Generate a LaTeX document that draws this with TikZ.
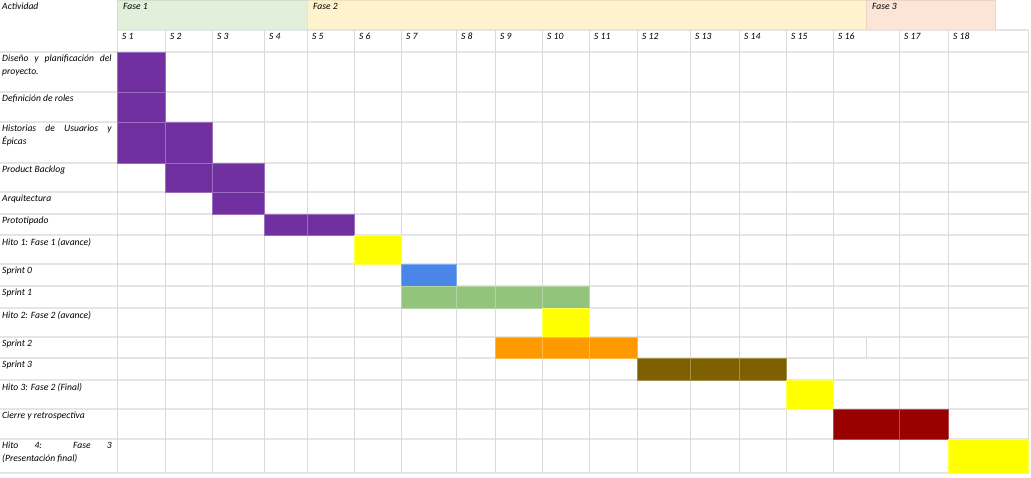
\documentclass[tikz,border=0pt]{standalone}
\usepackage{fontspec}
\setmainfont{Carlito}
\definecolor{purp}{HTML}{7030A0}
\definecolor{yel}{HTML}{FFFF00}
\definecolor{blu}{HTML}{4A86E8}
\definecolor{grn}{HTML}{93C47D}
\definecolor{org}{HTML}{FF9900}
\definecolor{brn}{HTML}{7F6000}
\definecolor{dred}{HTML}{990000}
\definecolor{phone}{HTML}{E2EFDA}
\definecolor{phtwo}{HTML}{FFF2CC}
\definecolor{phthree}{HTML}{FCE4D6}
\definecolor{gridc}{HTML}{DADADA}
\newcommand{\lblfont}{\fontsize{9.6}{13}\selectfont\itshape}
\begin{document}
\begin{tikzpicture}[x=1pt,y=-1pt,
  lbl/.style={anchor=north west, inner sep=0pt, font=\lblfont, text width=109.5pt, align=justify},
  hdr/.style={anchor=north west, inner sep=0pt, font=\lblfont},
  gridh/.style={draw=gridc!70!white, line width=1.5pt},
  gridv/.style={draw=gridc, line width=0.9pt},
  bar/.style={fill=#1, draw=#1!70!white, line width=0.8pt},
  phase/.style={fill=#1, draw=#1!93!black, line width=0.4pt}]
\useasboundingbox (0,0) rectangle (1031,477);
\fill[white] (0,0) rectangle (1031,477);
% phase header fills
\path[phase=phone] (117,0) rectangle (307,30);
\path[phase=phtwo] (307,0) rectangle (866,30);
\path[phase=phthree] (866,0) rectangle (995,30);
% horizontal grid
\draw[gridh] (117,30) -- (1028,30);
\foreach \y in {52,92,122,163,192,214,235,264,286,308,337,358,380,409,439,473}
  \draw[gridh] (0,\y) -- (1028,\y);
% vertical grid
\draw[gridv] (117,0) -- (117,473);
\foreach \x in {165,212,264,307,354,401,456,495,542,589,637,690,739,786,833,899,948,1028}
  \draw[gridv] (\x,30) -- (\x,473);
\draw[gridv] (866,337) -- (866,358);
% bars
\path[bar=purp] (117,52) rectangle (165,92);
\path[bar=purp] (117,92) rectangle (165,122);
\path[bar=purp] (117,122) rectangle (165,163);
\path[bar=purp] (165,122) rectangle (212,163);
\path[bar=purp] (165,163) rectangle (212,192);
\path[bar=purp] (212,163) rectangle (264,192);
\path[bar=purp] (212,192) rectangle (264,214);
\path[bar=purp] (264,214) rectangle (307,235);
\path[bar=purp] (307,214) rectangle (354,235);
\path[bar=yel] (354,235) rectangle (401,264);
\path[bar=blu] (401,264) rectangle (456,286);
\path[bar=grn] (401,286) rectangle (456,308);
\path[bar=grn] (456,286) rectangle (495,308);
\path[bar=grn] (495,286) rectangle (542,308);
\path[bar=grn] (542,286) rectangle (589,308);
\path[bar=yel] (542,308) rectangle (589,337);
\path[bar=org] (495,337) rectangle (542,358);
\path[bar=org] (542,337) rectangle (589,358);
\path[bar=org] (589,337) rectangle (637,358);
\path[bar=brn] (637,358) rectangle (690,380);
\path[bar=brn] (690,358) rectangle (739,380);
\path[bar=brn] (739,358) rectangle (786,380);
\path[bar=yel] (786,380) rectangle (833,409);
\path[bar=dred] (833,409) rectangle (899,439);
\path[bar=dred] (899,409) rectangle (948,439);
\path[bar=yel] (948,439) rectangle (1028,473);
% header texts
\node[hdr] (act) at (2,3) {Actividad};
\node[hdr] (f1) at (123,3) {Fase 1};
\node[hdr] (f2) at (313,3) {Fase 2};
\node[hdr] (f3) at (872,3) {Fase 3};
\foreach \x [count=\i] in {117,165,212,264,307,354,401,456,495,542,589,637,690,739,786,833,899,948}
  \node[hdr] (s\i) at (\x+5,33) {S \i};
% activity labels
\node[lbl] (a1) at (2,55) {Diseño y planificación del\linebreak proyecto.};
\node[lbl] (a2) at (2,95) {Definición de roles};
\node[lbl] (a3) at (2,125) {Historias de Usuarios y\linebreak Épicas};
\node[lbl] (a4) at (2,166) {Product Backlog};
\node[lbl] (a5) at (2,195) {Arquitectura};
\node[lbl] (a6) at (2,217) {Prototipado};
\node[lbl] (a7) at (2,238) {Hito 1: Fase 1 (avance)};
\node[lbl] (a8) at (2,267) {Sprint 0};
\node[lbl] (a9) at (2,289) {Sprint 1};
\node[lbl] (a10) at (2,311) {Hito 2: Fase 2 (avance)};
\node[lbl] (a11) at (2,340) {Sprint 2};
\node[lbl] (a12) at (2,361) {Sprint 3};
\node[lbl] (a13) at (2,383) {Hito 3: Fase 2 (Final)};
\node[lbl] (a14) at (2,412) {Cierre y retrospectiva};
\node[lbl] (a15) at (2,442) {Hito 4: Fase 3\linebreak (Presentación final)};
\end{tikzpicture}
\end{document}
